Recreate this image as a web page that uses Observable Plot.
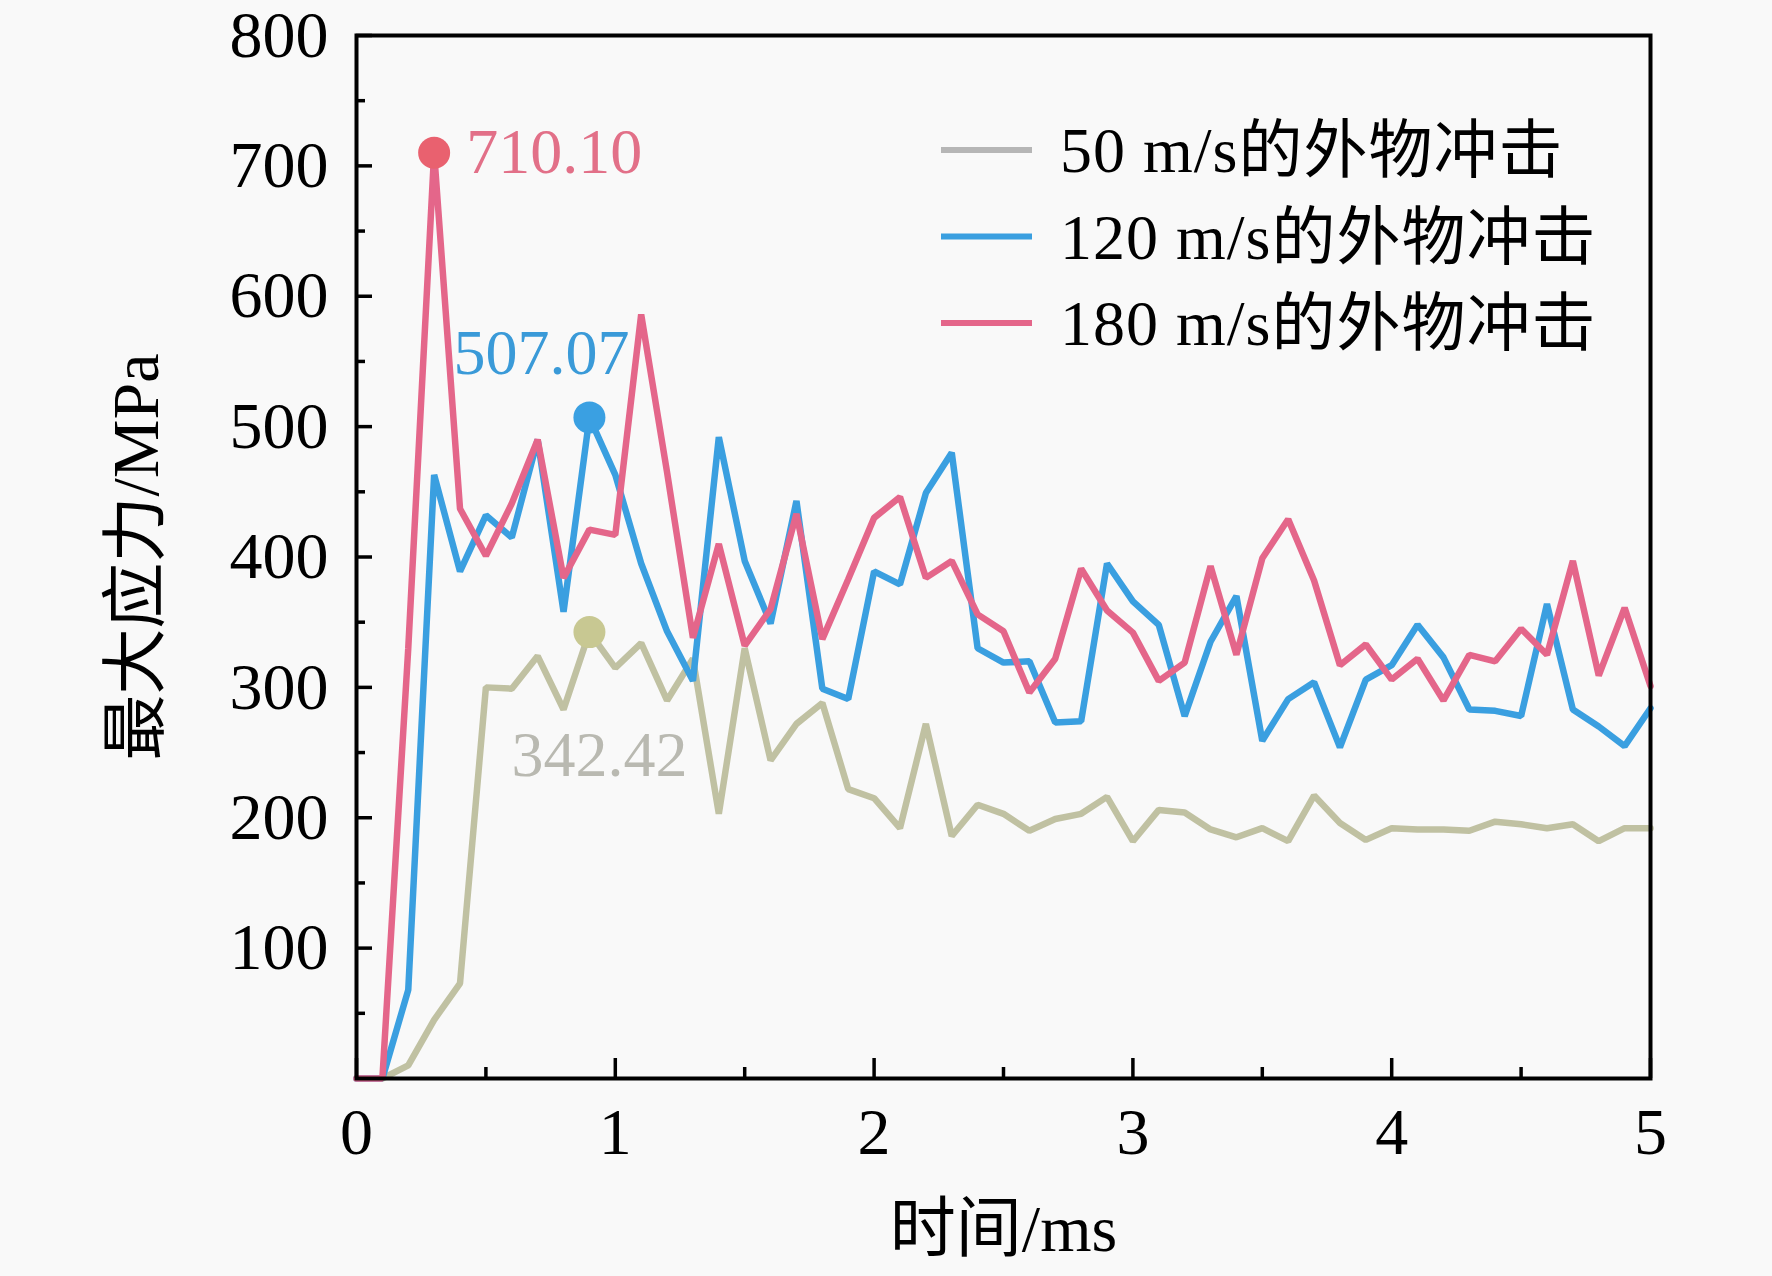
<!DOCTYPE html>
<html>
<head>
<meta charset="utf-8">
<script src="https://cdn.jsdelivr.net/npm/d3@7"></script>
<script src="https://cdn.jsdelivr.net/npm/@observablehq/plot@0.6"></script>
<style>
html, body { margin: 0; padding: 0; background: #f9f9f9; }
#chart { width: 1772px; height: 1276px; }
</style>
</head>
<body>
<div id="chart"></div>
<script>
// ---- data ----
const time = [0, 0.1, 0.2, 0.3, 0.4, 0.5, 0.6, 0.7, 0.8, 0.9,
  1.0, 1.1, 1.2, 1.3, 1.4, 1.5, 1.6, 1.7, 1.8, 1.9,
  2.0, 2.1, 2.2, 2.3, 2.4, 2.5, 2.6, 2.7, 2.8, 2.9,
  3.0, 3.1, 3.2, 3.3, 3.4, 3.5, 3.6, 3.7, 3.8, 3.9,
  4.0, 4.1, 4.2, 4.3, 4.4, 4.5, 4.6, 4.7, 4.8, 4.9, 5.0];

const stress50 = [0, 0, 10, 45, 73, 300, 299, 324, 283, 342.42,
  315, 334, 290, 322, 203, 330, 244, 272, 288, 222,
  215, 192, 272, 186, 210, 203, 190, 199, 203, 216,
  182, 206, 204, 191, 185, 192, 182, 217, 196, 183,
  192, 191, 191, 190, 197, 195, 192, 195, 182, 192, 192];

const stress120 = [0, 0, 68, 463, 389, 432, 415, 490, 358, 507.07,
  463, 395, 343, 305, 492, 397, 349, 443, 299, 291,
  389, 379, 449, 480, 330, 319, 320, 273, 274, 395,
  366, 348, 278, 335, 370, 259, 291, 304, 254, 306,
  317, 348, 323, 283, 282, 278, 364, 283, 270, 255, 284];

const stress180 = [0, 0, 330, 710.10, 437, 401, 441, 490, 384, 421,
  417, 586, 465, 338, 410, 332, 360, 433, 337, 383,
  430, 446, 384, 397, 356, 343, 296, 322, 391, 359,
  342, 305, 319, 393, 325, 399, 429, 382, 317, 333,
  306, 322, 290, 325, 320, 345, 325, 397, 309, 361, 301];

const seriesNames = ["50 m/s的外物冲击", "120 m/s的外物冲击", "180 m/s的外物冲击"];
const lineColors = ["#c0c1a2", "#3a9fe0", "#e4668a"];
const legendColors = ["#b6b6b6", "#3a9fe0", "#e4668a"];

const peakTime = [0.3, 0.9, 0.9];
const peakValue = [710.10, 507.07, 342.42];
const peakLabels = ["710.10", "507.07", "342.42"];
const markerColors = ["#e9616f", "#3aa0e2", "#c8c892"];
const peakLabelColors = ["#e27088", "#3a9ad8", "#b9b9b1"];

const xTicks = [0, 1, 2, 3, 4, 5];
const xMinorTicks = [0.5, 1.5, 2.5, 3.5, 4.5];
const yTicks = [100, 200, 300, 400, 500, 600, 700, 800];
const yMinorTicks = [50, 150, 250, 350, 450, 550, 650, 750];

const xLabel = "时间/ms";
const yLabel = "最大应力/MPa";

// ---- chart ----
const FONT = '"Liberation Serif", "Times New Roman", "Noto Sans CJK SC", serif';

const lineMark = (values, color) =>
  Plot.line(values, {x: (d, i) => time[i], y: d => d, stroke: color, strokeWidth: 6.5, strokeLinejoin: "miter"});

const peakText = (k, opts) =>
  Plot.text([k], {x: i => peakTime[i], y: i => peakValue[i], text: i => peakLabels[i],
    fill: peakLabelColors[k], fontSize: 64, ...opts});

const chart = Plot.plot({
  width: 1772,
  height: 1276,
  marginLeft: 356,
  marginRight: 122,
  marginTop: 35,
  marginBottom: 198,
  style: {background: "transparent", fontFamily: FONT, color: "#000", overflow: "visible"},
  x: {domain: [0, 5]},
  y: {domain: [0, 800]},
  color: {type: "identity"},
  marks: [
    lineMark(stress50, lineColors[0]),
    lineMark(stress120, lineColors[1]),
    lineMark(stress180, lineColors[2]),
    Plot.dot(peakValue, {x: (d, i) => peakTime[i], y: d => d, r: 16, fill: (d, i) => markerColors[i], stroke: "none"}),
    peakText(0, {dx: 32, textAnchor: "start"}),
    peakText(1, {dx: -48, dy: -64, textAnchor: "middle"}),
    peakText(2, {dx: 10, dy: 123, textAnchor: "middle"}),
    Plot.frame({stroke: "#000", strokeWidth: 4}),
    Plot.axisX(xTicks, {tickSize: -20, tickPadding: 49, strokeWidth: 3.5, fontSize: 66,
      tickFormat: d => String(d),
      label: xLabel, labelAnchor: "center", labelOffset: 172, labelArrow: "none"}),
    Plot.axisX(xMinorTicks, {tickSize: -11, strokeWidth: 3.5, tickFormat: () => "", label: null}),
    Plot.axisY(yTicks, {tickSize: -16, tickPadding: 44, strokeWidth: 3.5, fontSize: 66,
      tickFormat: d => String(d),
      label: yLabel, labelAnchor: "center", labelOffset: 245, labelArrow: "none"}),
    Plot.axisY(yMinorTicks, {tickSize: -9, strokeWidth: 3.5, tickFormat: () => "", label: null})
  ]
});

// legend inside plot (top right)
const svg = d3.select(chart);
const lg = svg.append("g").attr("font-family", FONT).attr("font-size", 64).attr("text-anchor", "start");
seriesNames.forEach((name, i) => {
  const y = 150 + i * 86.5;
  lg.append("line").attr("x1", 941).attr("x2", 1032).attr("y1", y).attr("y2", y)
    .attr("stroke", legendColors[i]).attr("stroke-width", 6);
  lg.append("text").attr("x", 1060).attr("y", y).attr("dy", "0.35em")
    .attr("text-anchor", "start").attr("letter-spacing", "1px").attr("fill", "#000").text(name);
});

document.getElementById("chart").appendChild(chart);
</script>
</body>
</html>
